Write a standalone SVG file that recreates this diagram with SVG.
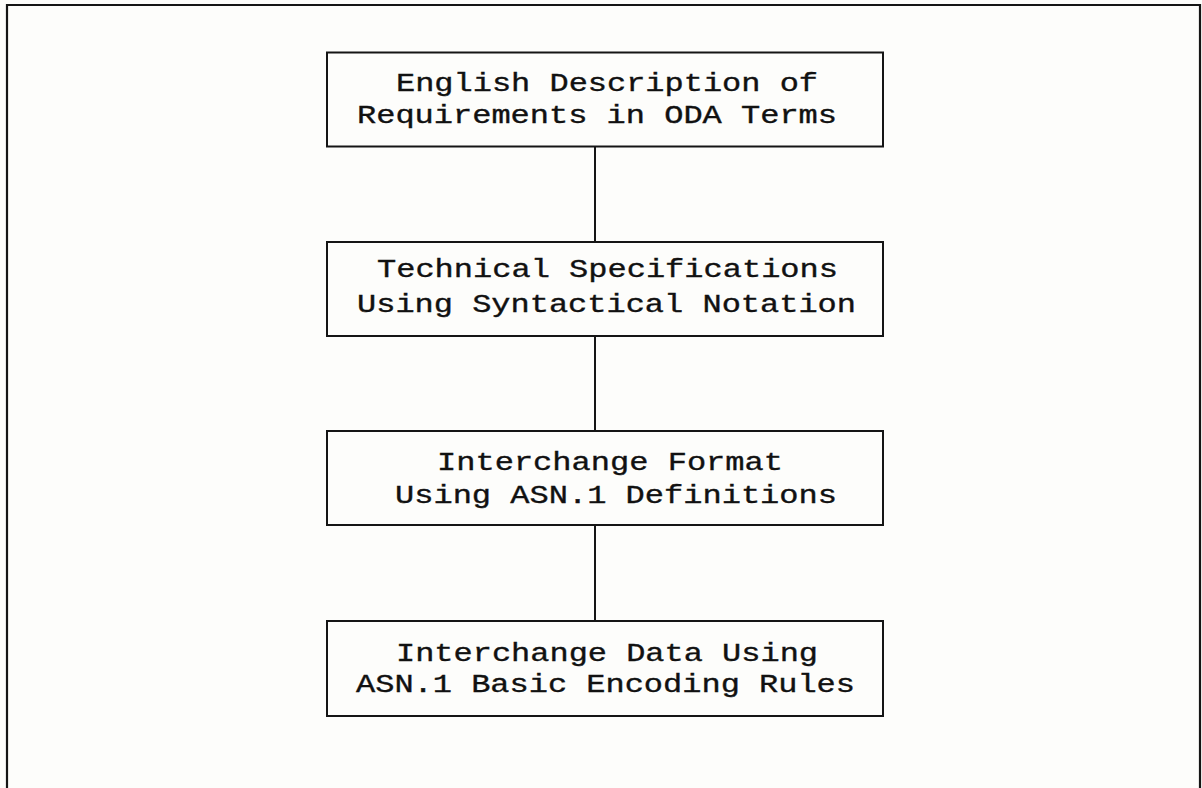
<svg xmlns="http://www.w3.org/2000/svg" width="1202" height="788" viewBox="0 0 1202 788">
  <style>
    .frame { fill: none; stroke: #151515; stroke-width: 2.2; }
    .box { fill: none; stroke: #151515; stroke-width: 2; }
    .link { stroke: #151515; stroke-width: 2; fill: none; }
    .label { font-family: "Liberation Mono", "Courier New", monospace; font-size: 25px; fill: #111; stroke: #111; stroke-width: 0.35; }
  </style>
  <rect x="0" y="0" width="1202" height="788" fill="#fdfdfb"/>
  <!-- outer frame: open along the bottom edge -->
  <path class="frame" d="M7,788 V5 H1200 V788"/>

  <g id="connectors">
    <line class="link" x1="595" y1="146.5" x2="595" y2="242"/>
    <line class="link" x1="595" y1="336" x2="595" y2="431"/>
    <line class="link" x1="595" y1="525" x2="595" y2="621"/>
  </g>

  <g id="english-description">
    <rect class="box" x="327" y="52.5" width="556" height="94"/>
    <text class="label" x="396" y="91" textLength="422" lengthAdjust="spacingAndGlyphs">English Description of</text>
    <text class="label" x="357" y="123" textLength="480" lengthAdjust="spacingAndGlyphs">Requirements in ODA Terms</text>
  </g>

  <g id="technical-specifications">
    <rect class="box" x="327" y="242" width="556" height="94"/>
    <text class="label" x="377" y="277" textLength="461" lengthAdjust="spacingAndGlyphs">Technical Specifications</text>
    <text class="label" x="357" y="312" textLength="499" lengthAdjust="spacingAndGlyphs">Using Syntactical Notation</text>
  </g>

  <g id="interchange-format">
    <rect class="box" x="327" y="431" width="556" height="94"/>
    <text class="label" x="437" y="470" textLength="346" lengthAdjust="spacingAndGlyphs">Interchange Format</text>
    <text class="label" x="395" y="503" textLength="442" lengthAdjust="spacingAndGlyphs">Using ASN.1 Definitions</text>
  </g>

  <g id="interchange-data">
    <rect class="box" x="327" y="621" width="556" height="95"/>
    <text class="label" x="396" y="661" textLength="422" lengthAdjust="spacingAndGlyphs">Interchange Data Using</text>
    <text class="label" x="356" y="692" textLength="499" lengthAdjust="spacingAndGlyphs">ASN.1 Basic Encoding Rules</text>
  </g>
</svg>
